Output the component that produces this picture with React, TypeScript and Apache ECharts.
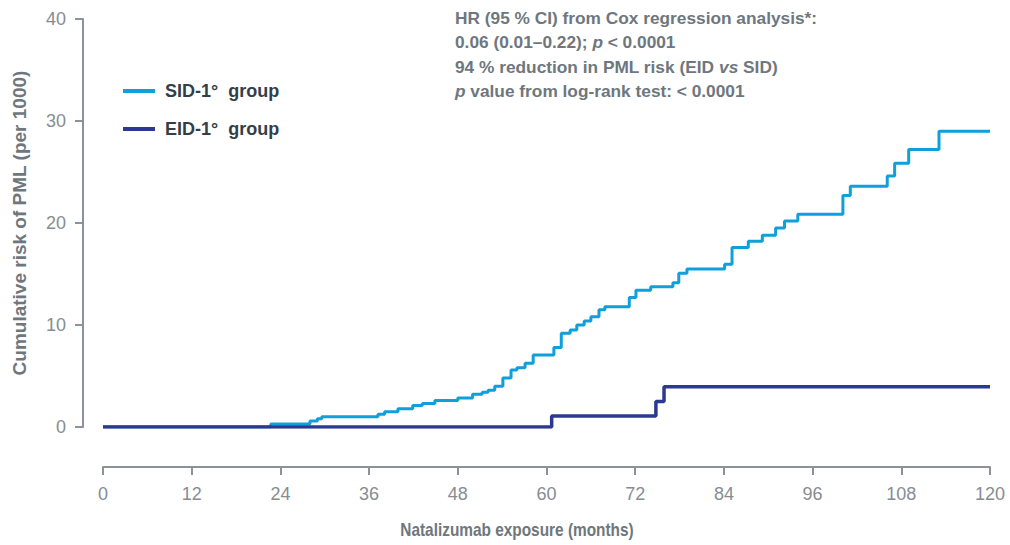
import React, { useEffect, useRef } from "react";
import * as echarts from "echarts";

// Step data: [month, cumulative risk per 1000] — value becomes v at month t
const sidMonths = [0, 22.7, 28.0, 29.0, 29.6, 37.2, 38.1, 39.9, 41.9, 43.2, 44.9, 48.0, 50.0, 51.3, 52.1, 53.0, 54.1, 55.2, 56.0, 57.1, 58.2, 61.0, 62.0, 63.2, 64.1, 65.1, 66.0, 67.1, 67.9, 71.2, 72.1, 74.1, 77.1, 77.9, 79.0, 84.1, 85.1, 87.3, 89.2, 91.0, 92.2, 94.0, 100.1, 101.1, 106.1, 107.1, 109.0, 113.1, 120];
const sidRisk = [0, 0.3, 0.6, 0.8, 1.0, 1.25, 1.5, 1.8, 2.1, 2.3, 2.6, 2.85, 3.2, 3.4, 3.6, 4.0, 4.8, 5.6, 5.8, 6.25, 7.06, 7.8, 9.2, 9.5, 10.0, 10.4, 10.8, 11.5, 11.8, 12.7, 13.4, 13.75, 14.15, 15.07, 15.5, 15.95, 17.6, 18.2, 18.8, 19.5, 20.2, 20.85, 22.7, 23.6, 24.6, 25.85, 27.2, 29.0, 29.0];

const eidMonths = [0, 60.7, 74.8, 75.9, 120];
const eidRisk = [0, 1.08, 2.5, 3.95, 3.95];

const xTicks = { min: 0, max: 120, interval: 12 };
const yTicks = { min: 0, max: 40, interval: 10 };

const seriesNames = ["SID-1°  group", "EID-1°  group"];
const annotationLines = [
  "HR (95 % CI) from Cox regression analysis*:",
  "0.06 (0.01–0.22); {i|p} < 0.0001",
  "94 % reduction in PML risk (EID {i|vs} SID)",
  "{i|p} value from log-rank test: < 0.0001",
];
const xTitle = "Natalizumab exposure (months)";
const yTitle = "Cumulative risk of PML (per 1000)";

const SID_COLOR = "#0f9fdb";
const EID_COLOR = "#2b3990";
const AXIS_COLOR = "#8c9297";
const LABEL_COLOR = "#868d92";
const TITLE_COLOR = "#6e777d";
const LEGEND_TEXT = "#343e48";
const FONT = "'Liberation Sans', Arial, sans-serif";

export default function App() {
  const ref = useRef<HTMLDivElement>(null);

  useEffect(() => {
    document.body.style.margin = "0";
    if (!ref.current) return;
    const chart = echarts.init(ref.current, undefined, { renderer: "svg" });

    const sidData = sidMonths.map((m, i) => [m, sidRisk[i]]);
    const eidData = eidMonths.map((m, i) => [m, eidRisk[i]]);

    chart.setOption({
      animation: false,
      backgroundColor: "#ffffff",
      textStyle: { fontFamily: FONT },
      grid: { left: 103, right: 20, top: 19, bottom: 118, containLabel: false, outerBoundsMode: "none" },
      xAxis: {
        type: "value",
        min: xTicks.min,
        max: xTicks.max,
        interval: xTicks.interval,
        offset: 40,
        axisLine: { show: true, onZero: false, lineStyle: { color: AXIS_COLOR, width: 2 } },
        axisTick: { show: true, length: 8, lineStyle: { color: AXIS_COLOR, width: 2 } },
        axisLabel: { margin: 18, color: LABEL_COLOR, fontSize: 18, fontFamily: FONT },
        splitLine: { show: false },
      },
      yAxis: {
        type: "value",
        min: yTicks.min,
        max: yTicks.max,
        interval: yTicks.interval,
        offset: 20,
        axisLine: { show: true, onZero: false, lineStyle: { color: AXIS_COLOR, width: 2 } },
        axisTick: { show: true, length: 8, lineStyle: { color: AXIS_COLOR, width: 2 } },
        axisLabel: { margin: 17, color: LABEL_COLOR, fontSize: 18, fontFamily: FONT },
        splitLine: { show: false },
        name: yTitle,
        nameLocation: "middle",
        nameGap: 54,
        nameRotate: 90,
        nameTextStyle: { color: TITLE_COLOR, fontSize: 19, fontWeight: "bold", fontFamily: FONT },
      },
      series: [
        {
          name: seriesNames[0],
          type: "line",
          step: "end",
          showSymbol: false,
          data: sidData,
          lineStyle: { color: SID_COLOR, width: 3 },
          itemStyle: { color: SID_COLOR },
          z: 2,
        },
        {
          name: seriesNames[1],
          type: "line",
          step: "end",
          showSymbol: false,
          data: eidData,
          lineStyle: { color: EID_COLOR, width: 3.5 },
          itemStyle: { color: EID_COLOR },
          z: 3,
        },
      ],
      graphic: [
        { type: "line", shape: { x1: 123, y1: 91, x2: 155, y2: 91 }, style: { stroke: SID_COLOR, lineWidth: 4 } },
        { type: "text", x: 165, y: 91, style: { text: seriesNames[0], fill: LEGEND_TEXT, font: `bold 18px ${FONT}`, verticalAlign: "middle" } },
        { type: "line", shape: { x1: 123, y1: 129, x2: 155, y2: 129 }, style: { stroke: EID_COLOR, lineWidth: 4 } },
        { type: "text", x: 165, y: 129, style: { text: seriesNames[1], fill: LEGEND_TEXT, font: `bold 18px ${FONT}`, verticalAlign: "middle" } },
        {
          type: "text",
          x: 455,
          y: 6,
          style: {
            text: annotationLines.join("\n"),
            fill: TITLE_COLOR,
            font: `bold 17.3px ${FONT}`,
            lineHeight: 24.3,
            verticalAlign: "top",
            rich: {
              i: { fontStyle: "italic", fontWeight: "bold", fontSize: 17.3, fontFamily: FONT, fill: TITLE_COLOR, lineHeight: 24.3 },
            },
          },
        },
        {
          type: "text",
          x: 517,
          y: 530,
          scaleX: 0.88,
          style: { text: xTitle, fill: TITLE_COLOR, font: `bold 17.5px ${FONT}`, align: "center", verticalAlign: "middle" },
        },
      ],
    });

    return () => chart.dispose();
  }, []);

  return <div ref={ref} style={{ width: 1010, height: 545 }} />;
}
